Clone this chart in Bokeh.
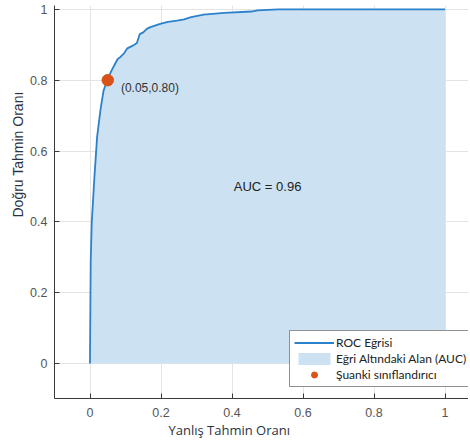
from bokeh.plotting import figure
from bokeh.models import Range1d, FixedTicker, Label, Legend, LegendItem, ColumnDataSource, Title
from bokeh.embed import file_html
from bokeh.resources import INLINE

# ROC curve
fpr = [0.0, 0.0, 0.002, 0.005, 0.008, 0.012, 0.016, 0.020, 0.025, 0.030, 0.038, 0.045,
       0.050, 0.055, 0.062, 0.070, 0.078, 0.085, 0.095, 0.105, 0.115, 0.125, 0.132,
       0.140, 0.150, 0.160, 0.170, 0.185, 0.200, 0.220, 0.245, 0.265, 0.285, 0.320,
       0.378, 0.454, 0.472, 0.530, 1.0]
tpr = [0.0, 0.02, 0.29, 0.40, 0.45, 0.52, 0.58, 0.64, 0.68, 0.72, 0.77, 0.79,
       0.80, 0.815, 0.83, 0.845, 0.86, 0.865, 0.875, 0.89, 0.895, 0.90, 0.905,
       0.93, 0.935, 0.945, 0.95, 0.955, 0.96, 0.965, 0.968, 0.972, 0.978, 0.985,
       0.99, 0.994, 0.997, 1.0, 1.0]

op_fpr = [0.05]
op_tpr = [0.80]
auc_value = 0.96

x_ticks = [0, 0.2, 0.4, 0.6, 0.8, 1]
x_tick_labels = ["0", "0.2", "0.4", "0.6", "0.8", "1"]
y_ticks = [0, 0.2, 0.4, 0.6, 0.8, 1]
y_tick_labels = ["0", "0.2", "0.4", "0.6", "0.8", "1"]

x_title = "Yanlış Tahmin Oranı"
y_title = "Doğru Tahmin Oranı"
legend_labels = ["ROC Eğrisi", "Eğri Altındaki Alan (AUC)", "Şuanki sınıflandırıcı"]

p = figure(width=468, height=440, output_backend="svg", toolbar_location=None,
           x_range=Range1d(-0.1, 1.066), y_range=Range1d(-0.099, 1.011),
           min_border_left=54, min_border_right=0, min_border_top=5, min_border_bottom=42)
p.outline_line_color = None
p.background_fill_color = "white"

curve = ColumnDataSource(dict(x=fpr, y=tpr, y0=[0] * len(fpr)))
area_r = p.varea(x="x", y1="y0", y2="y", source=curve, fill_color="#cce2f2", fill_alpha=1.0)
line_r = p.line(x="x", y="y", source=curve, line_color="#2b82cb", line_width=1.8)
pt_r = p.scatter(x=op_fpr, y=op_tpr, size=11.5, marker="circle",
                 fill_color="#d95319", line_color="#d95319")

for ax, ticks, labels in ((p.xaxis[0], x_ticks, x_tick_labels), (p.yaxis[0], y_ticks, y_tick_labels)):
    ax.ticker = FixedTicker(ticks=ticks)
    ax.major_label_overrides = {t: l for t, l in zip(ticks, labels)}
    ax.major_tick_in = 5
    ax.major_tick_out = 0
    ax.minor_tick_in = 0
    ax.minor_tick_out = 0
    ax.axis_line_color = "#3a3a3a"
    ax.major_tick_line_color = "#3a3a3a"
    ax.major_label_text_font = "Liberation Sans"
    ax.major_label_text_font_size = "12.5px"
    ax.major_label_text_color = "#555555"
p.xaxis.major_label_standoff = 9
p.yaxis.major_label_standoff = 7

p.xgrid.ticker = FixedTicker(ticks=x_ticks)
p.ygrid.ticker = FixedTicker(ticks=y_ticks)
p.grid.grid_line_color = "#e4e4e4"
p.grid.grid_line_width = 1

# axis titles (placed as side titles so they can sit off-centre like the reference)
p.add_layout(Title(text=y_title, align="left", offset=181, vertical_align="middle",
                   standoff=2, text_font="Liberation Sans", text_font_size="14px",
                   text_font_style="normal", text_color="#2a3344"), "left")
p.add_layout(Title(text=x_title, align="left", offset=114, vertical_align="middle",
                   standoff=0, text_font="Open Sans", text_font_size="13px",
                   text_font_style="normal", text_color="#2a3344"), "below")

# annotations
p.add_layout(Label(x=op_fpr[0] + 0.037, y=op_tpr[0] - 0.022,
                   text="(%.2f,%.2f)" % (op_fpr[0], op_tpr[0]),
                   text_align="left", text_baseline="middle",
                   text_font="Liberation Sans", text_font_size="12px",
                   text_color="#333333"))
p.add_layout(Label(x=0.405, y=0.5, text="AUC = %.2f" % auc_value,
                   text_align="left", text_baseline="middle",
                   text_font="Liberation Sans", text_font_size="13px",
                   text_color="#222222"))

legend = Legend(items=[LegendItem(label=legend_labels[0], renderers=[line_r]),
                       LegendItem(label=legend_labels[1], renderers=[area_r]),
                       LegendItem(label=legend_labels[2], renderers=[pt_r])],
                location=(235, 11))
legend.label_text_font = "Lato"
legend.label_text_font_size = "12px"
legend.label_text_color = "#222222"
legend.glyph_width = 40
legend.glyph_height = 15
legend.label_height = 15
legend.label_standoff = 2
legend.padding = 4
legend.spacing = 1
legend.margin = 0
legend.border_line_color = "#222222"
legend.border_line_width = 1
legend.background_fill_color = "white"
legend.background_fill_alpha = 1.0
p.add_layout(legend)

open("out.html", "w").write(file_html(p, INLINE))
